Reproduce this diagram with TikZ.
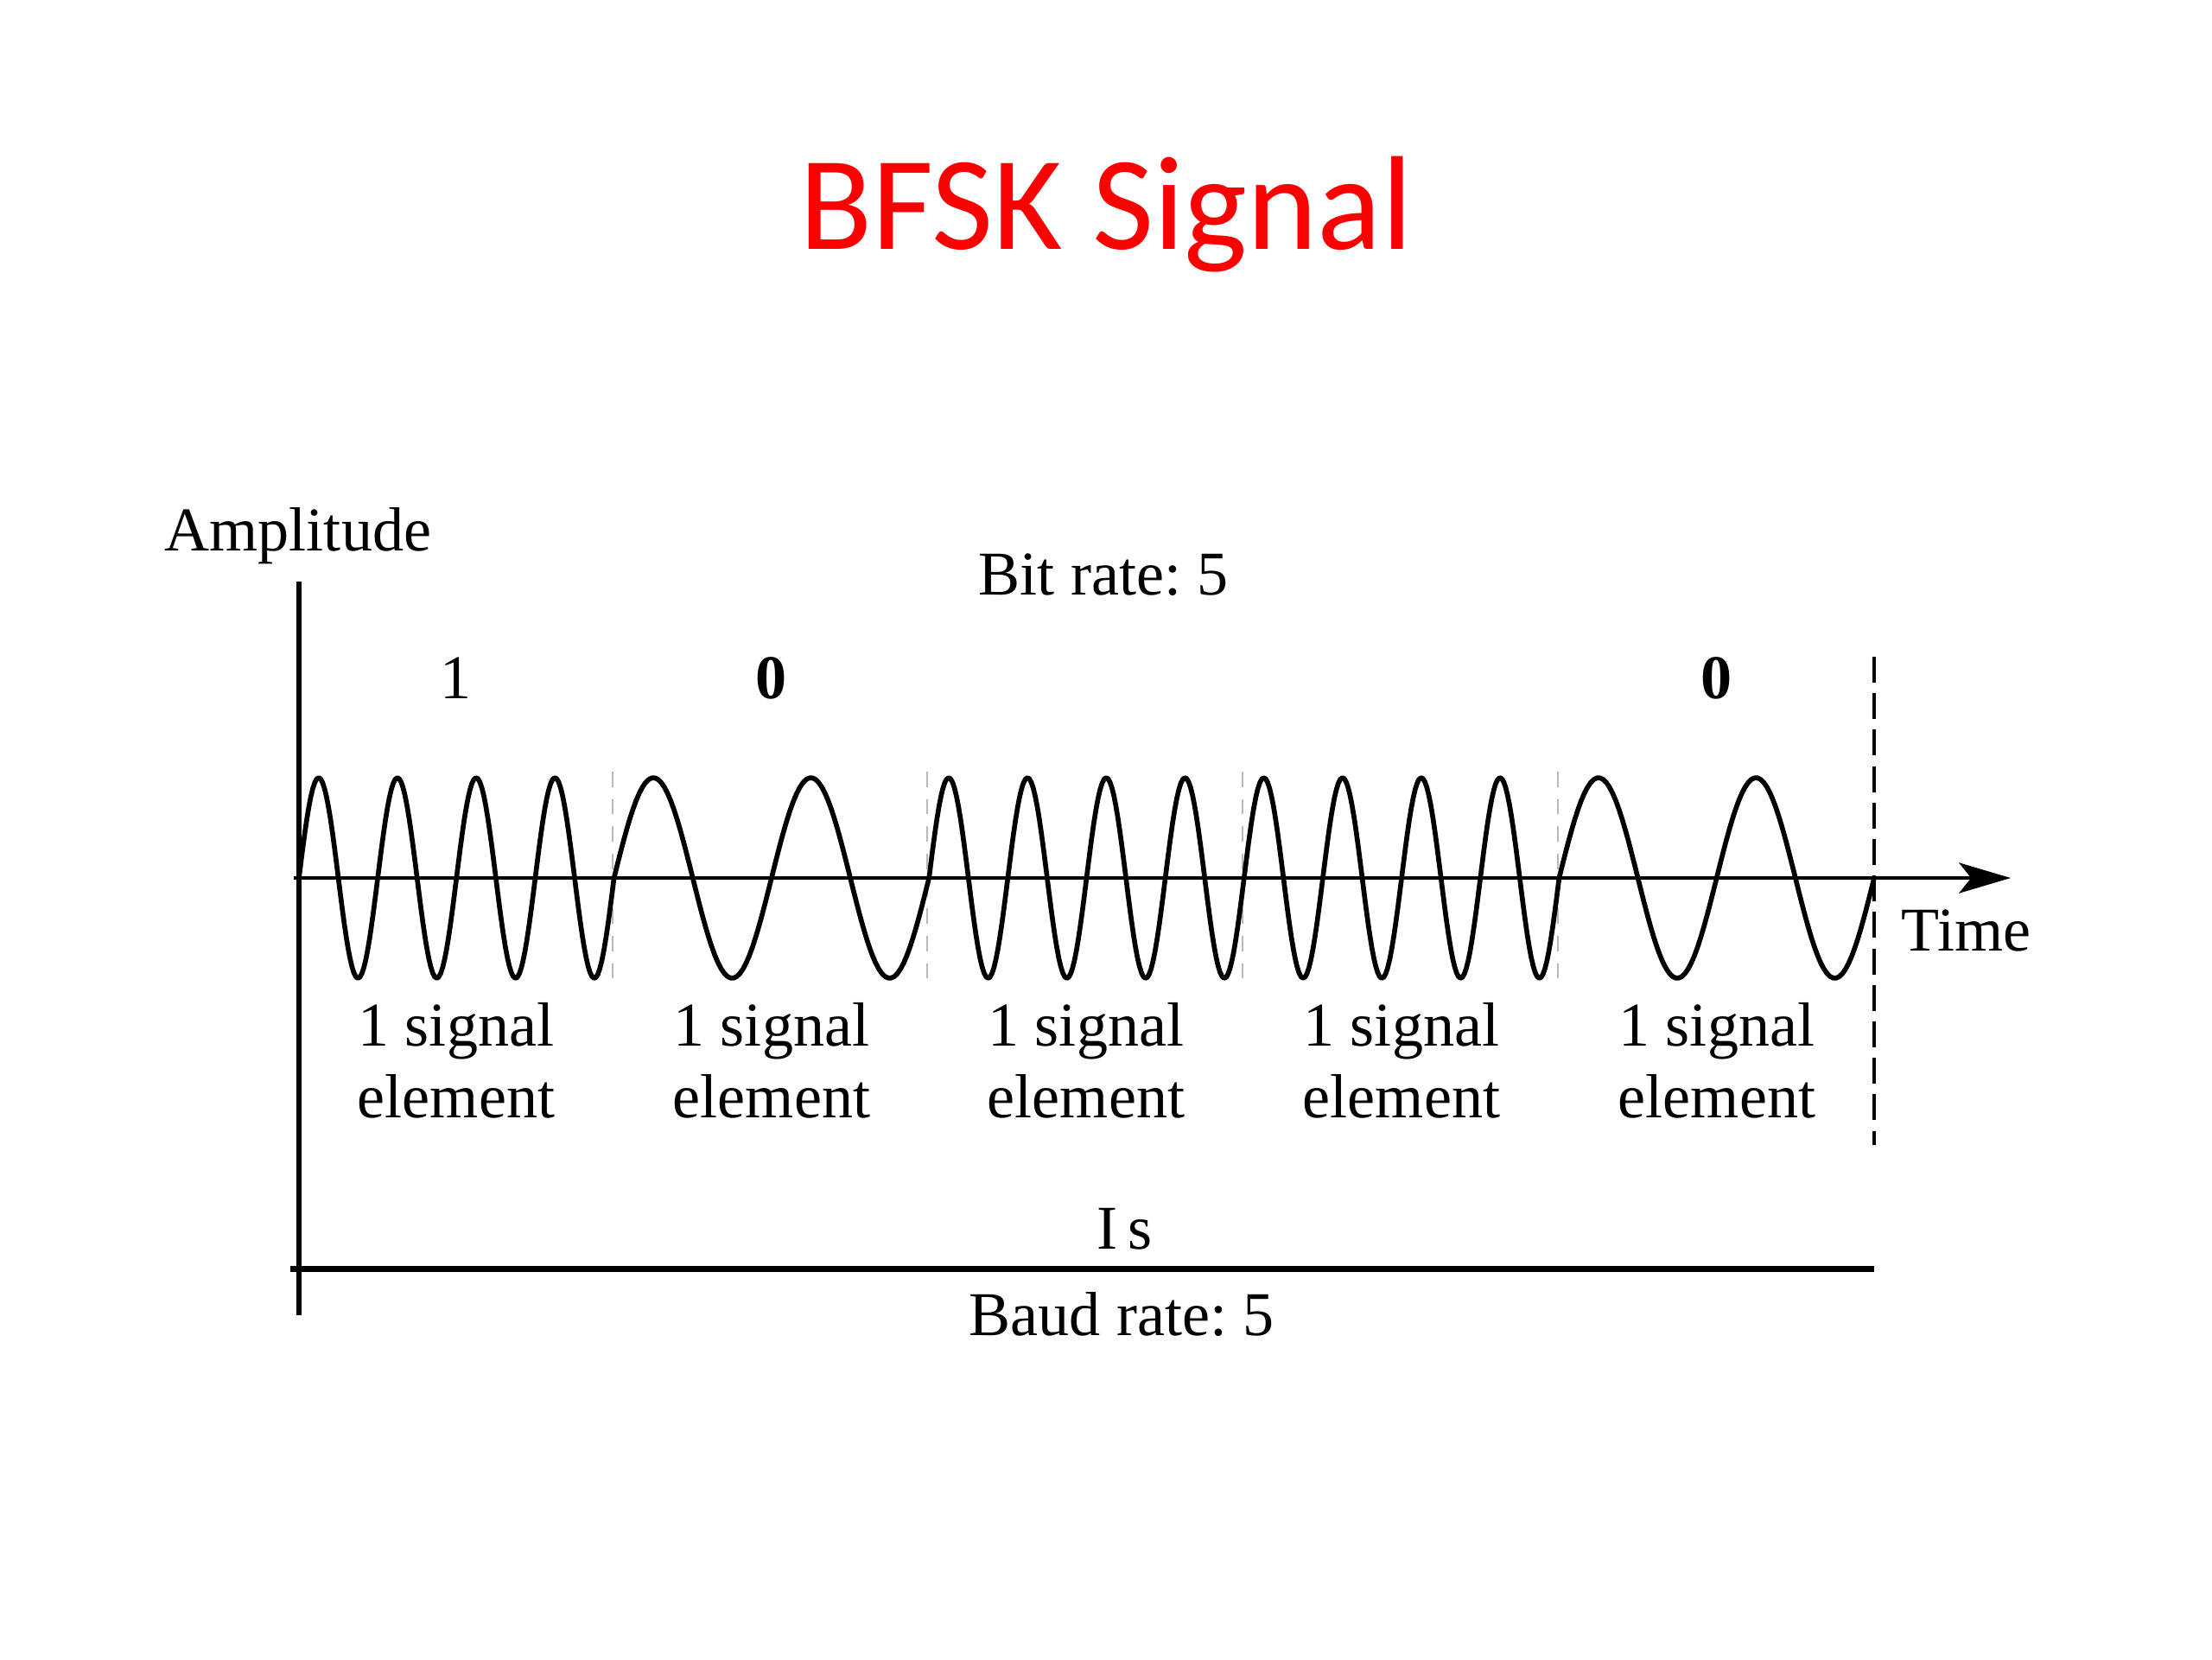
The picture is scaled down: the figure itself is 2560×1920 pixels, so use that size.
\documentclass[tikz,border=0pt]{standalone}
\usepackage{fontspec}
\setmainfont{Liberation Serif}
\newfontfamily\titlefont{Carlito}
\usetikzlibrary{arrows.meta}
\definecolor{titlered}{RGB}{250,0,0}
\begin{document}
\begin{tikzpicture}[x=0.01cm,y=-0.01cm,
  lbl/.style={font=\fontsize{20.5}{23.6}\selectfont, inner sep=0pt, anchor=base, align=center},
  wave/.style={line width=1.6pt, line join=round},
  axisline/.style={line width=1.9pt},
  timeaxis/.style={line width=1.4pt, -{Stealth[length=17pt,width=10pt,inset=4pt]}},
  faint/.style={gray!55, line width=0.7pt, dash pattern=on 5pt off 4pt},
  enddash/.style={line width=1.1pt, dash pattern=on 8.5pt off 3.5pt}]
\useasboundingbox (0,0) rectangle (2560,1920);

\node[anchor=base, inner sep=0pt, text=titlered, font=\titlefont\fontsize{44}{50}\selectfont] (title) at (1280,288) {BFSK Signal};

% axes
\coordinate (ytop) at (346,673);
\coordinate (ybot) at (346,1522);
\coordinate (xstart) at (340,1016);
\coordinate (xend) at (2327,1016);
\draw[axisline] (ytop) -- (ybot);
\draw[timeaxis] (xstart) -- (xend);

% boundaries
\foreach \bx in {709,1073,1438,1803}
  \draw[faint] (\bx,893) -- (\bx,1135);
\coordinate (dtop) at (2169,760);
\coordinate (dbot) at (2169,1325);
\draw[enddash] (dtop) -- (dbot);

% wave (bits 1 0 1 1 0)
\draw[wave]
  plot[domain=0:1, samples=161, variable=\t] ({346+364.6*\t},{1016-116*sin(1440*\t)})
  -- plot[domain=0:1, samples=101, variable=\t] ({710.6+364.6*\t},{1016-116*sin(720*\t)})
  -- plot[domain=0:1, samples=161, variable=\t] ({1075.2+364.6*\t},{1016-116*sin(1440*\t)})
  -- plot[domain=0:1, samples=161, variable=\t] ({1439.8+364.6*\t},{1016-116*sin(1440*\t)})
  -- plot[domain=0:1, samples=101, variable=\t] ({1804.4+364.6*\t},{1016-116*sin(720*\t)});

% bottom line
\coordinate (bl) at (336,1468);
\coordinate (br) at (2169,1468);
\draw[line width=2pt] (bl) -- (br);

% labels
\node[lbl, anchor=base west] (amp) at (190,637) {Amplitude};
\node[lbl] (bitrate) at (1277,688) {Bit rate:\ 5};
\node[lbl] (b1) at (528,808) {1};
\node[lbl] (b2) at (893,808) {\bfseries 0};
\node[lbl] (b5) at (1987,808) {\bfseries 0};
\node[lbl, anchor=base west] (time) at (2200,1100) {Time};
\foreach \cx/\nm in {528/e1,893/e2,1257/e3,1622/e4,1987/e5}
  \node[lbl] (\nm) at (\cx,1293) {1 signal\\element};
\node[lbl] (dur) at (1302,1445) {I\,s};
\node[lbl] (baud) at (1298,1545) {Baud rate:\ 5};
\end{tikzpicture}
\end{document}
